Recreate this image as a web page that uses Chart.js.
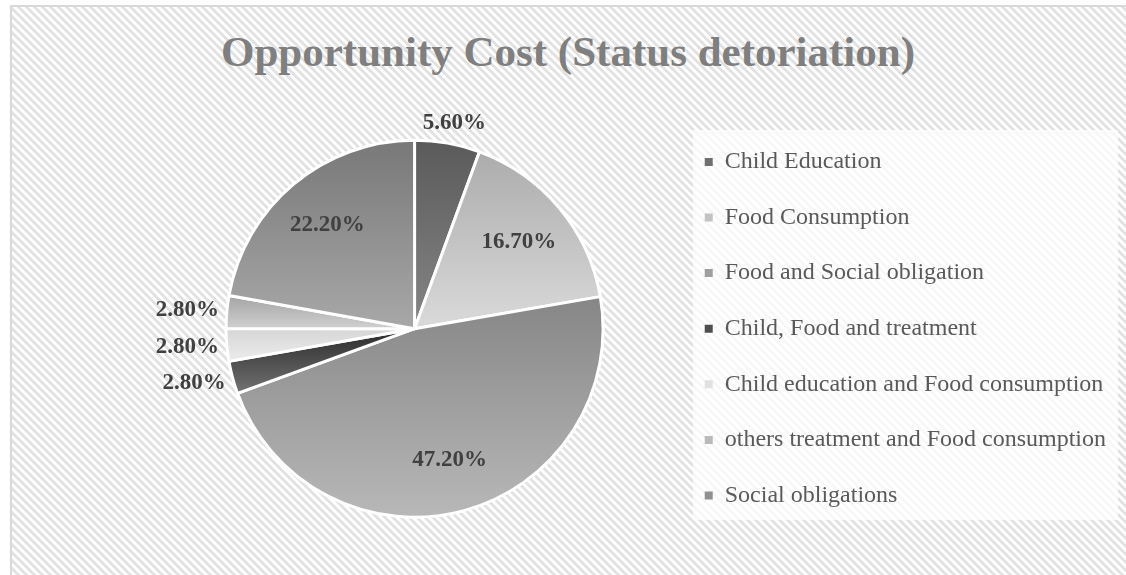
<!DOCTYPE html>
<html>
<head>
<meta charset="utf-8">
<title>Opportunity Cost (Status detoriation)</title>
<script src="https://cdn.jsdelivr.net/npm/chart.js@4.4.1/dist/chart.umd.min.js"></script>
<style>
  html, body { margin: 0; padding: 0; background: #fff; overflow: hidden; }
  #frame {
    position: absolute; left: 10px; top: 5px; width: 1130px; height: 580px;
    box-sizing: border-box; border: 2px solid #d9d9d9;
    background: repeating-linear-gradient(45deg, #ffffff 0 2.83px, #e2e2e2 2.83px 5.66px);
  }
  #legendPanel {
    position: absolute; left: 693px; top: 130px; width: 425px; height: 390px;
    background: rgba(255, 255, 255, 0.72);
  }
  #title {
    position: absolute; left: 10px; top: 30px; width: 1116px; margin: 0;
    text-align: center; color: #7f7f7f;
    font: bold 43px/44px "Liberation Serif", "Times New Roman", serif;
  }
  #wrap { position: absolute; left: 0; top: 0; width: 1126px; height: 575px; }
</style>
</head>
<body>
<div id="frame"></div>
<div id="legendPanel"></div>
<div id="title">Opportunity Cost (Status detoriation)</div>
<div id="wrap"><canvas id="pie"></canvas></div>

<script>
// data
const categories = [
  "Child Education",
  "Food Consumption",
  "Food and Social obligation",
  "Child, Food and treatment",
  "Child education and Food consumption",
  "others treatment and Food consumption",
  "Social obligations"
];
const shares = [5.6, 16.7, 47.2, 2.8, 2.8, 2.8, 22.2];

// grey shading of each slice, top -> bottom
const shadeTop = ["#5a5a5a", "#acacac", "#868686", "#2a2a2a", "#d6d6d6", "#a4a4a4", "#787878"];
const shadeBottom = ["#868686", "#dadada", "#b8b8b8", "#727272", "#ececec", "#d0d0d0", "#a8a8a8"];

const serif = '"Liberation Serif", "Times New Roman", serif';

function mix(a, b) {
    const pa = parseInt(a.slice(1), 16), pb = parseInt(b.slice(1), 16);
    const ch = s => Math.round((((pa >> s) & 255) + ((pb >> s) & 255)) / 2);
    return "rgb(" + ch(16) + "," + ch(8) + "," + ch(0) + ")";
}

// vertical gradient over the slice's own bounding box
function sliceGradient(c) {
    const i = c.dataIndex;
    const arc = c.element;
    if (!arc || arc.outerRadius === undefined || isNaN(arc.y)) {
        return mix(shadeTop[i], shadeBottom[i]);
    }
    const r = arc.outerRadius, s = arc.startAngle, e = arc.endAngle;
    const ys = [arc.y, arc.y + r * Math.sin(s), arc.y + r * Math.sin(e)];
    [-Math.PI / 2, Math.PI / 2, 3 * Math.PI / 2].forEach(a => {
        if (a > s && a < e) ys.push(arc.y + r * Math.sin(a));
    });
    const top = Math.min(...ys), bottom = Math.max(...ys);
    const g = c.chart.ctx.createLinearGradient(0, top, 0, bottom + 0.01);
    g.addColorStop(0, shadeTop[i]);
    g.addColorStop(1, shadeBottom[i]);
    return g;
}

// percentage labels: inside big slices, outside the small ones
const sliceLabels = {
    id: 'sliceLabels',
    afterDatasetsDraw(chart) {
        const ctx = chart.ctx;
        const meta = chart.getDatasetMeta(0);
        ctx.save();
        ctx.font = 'bold 23px ' + serif;
        ctx.fillStyle = '#404040';
        ctx.textAlign = 'center';
        ctx.textBaseline = 'middle';
        meta.data.forEach((arc, i) => {
            const p = arc.getProps(['x', 'y', 'startAngle', 'endAngle', 'outerRadius'], true);
            const mid = (p.startAngle + p.endAngle) / 2;
            const cos = Math.cos(mid), sin = Math.sin(mid);
            const text = shares[i].toFixed(2) + '%';
            let lx, ly;
            if (shares[i] < 10) {
                const w = ctx.measureText(text).width;
                const d = p.outerRadius + 8;
                lx = p.x + d * cos + cos * w / 2;
                ly = p.y + d * sin + sin * 12;
            } else {
                lx = p.x + p.outerRadius * 0.72 * cos;
                ly = p.y + p.outerRadius * 0.72 * sin;
            }
            ctx.fillText(text, lx, ly);
        });
        ctx.restore();
    }
};

const chart = new Chart(document.getElementById('pie'), {
    type: 'pie',
    data: {
        labels: categories,
        datasets: [{
            data: shares,
            backgroundColor: sliceGradient,
            borderColor: '#ffffff',
            borderWidth: 3,
            radius: 188.5
        }]
    },
    options: {
        responsive: true,
        maintainAspectRatio: false,
        animation: false,
        events: [],
        layout: {
            padding: { left: 156, right: 10, top: 113.7, bottom: 31.3 }
        },
        plugins: {
            title: { display: false },
            tooltip: { enabled: false },
            legend: {
                position: 'right',
                labels: {
                    boxWidth: 8,
                    boxHeight: 8,
                    padding: 31.6,
                    color: '#595959',
                    font: { family: serif, size: 24 },
                    generateLabels(ch) {
                        const items = Chart.overrides.doughnut.plugins.legend.labels.generateLabels(ch);
                        items.forEach((item, i) => {
                            item.fillStyle = mix(shadeTop[i], shadeBottom[i]);
                            item.lineWidth = 0;
                        });
                        return items;
                    }
                }
            }
        }
    },
    plugins: [sliceLabels]
});

// second pass so the gradients know where each slice sits
chart.update();
</script>
</body>
</html>
